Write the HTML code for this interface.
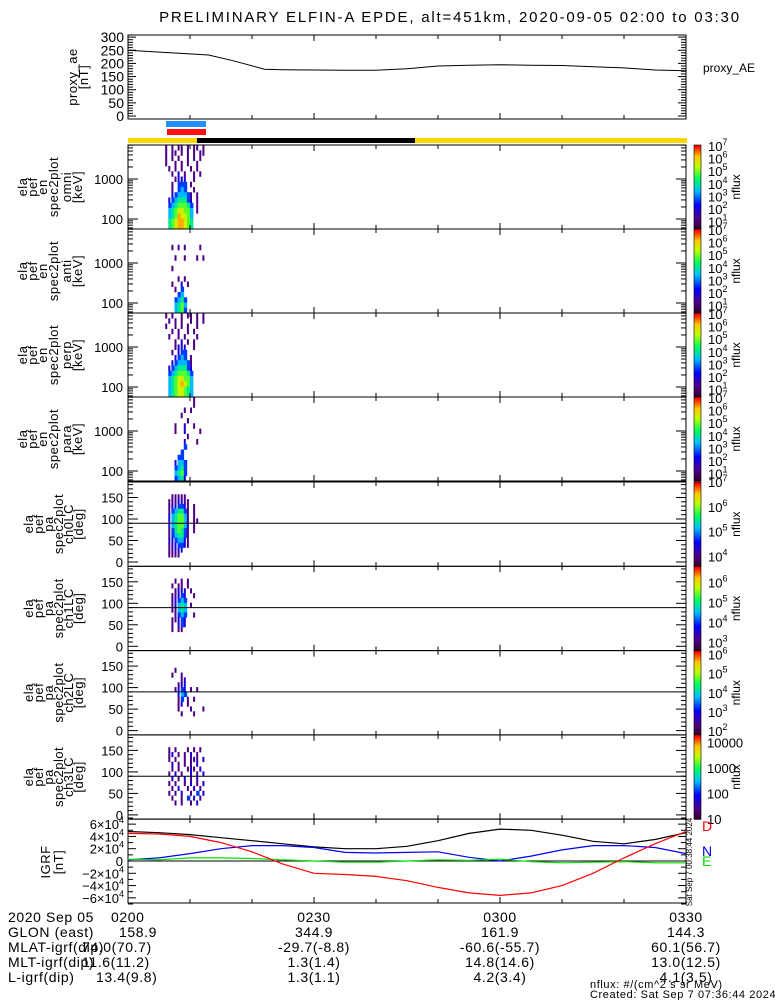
<!DOCTYPE html>
<html><head><meta charset="utf-8"><style>
html,body{margin:0;padding:0;background:#fff;}
svg{display:block;font-family:"Liberation Sans",sans-serif;}
</style></head><body>
<svg id="c" width="775" height="1000" viewBox="0 0 775 1000" xmlns="http://www.w3.org/2000/svg"></svg>
<script>
// ---------- data ----------
const aeTimes=[0,5,10,13,17,22,25,30,35,40,45,50,55,60,65,70,75,80,85,90];
const aeValues=[250,243,236,232,210,178,176,175,174,174,180,190,193,195,193,192,187,183,175,172];
const aeTicks=[0,50,100,150,200,250,300];
const igrfTimes=[0,5,10,15,20,25,30,35,40,45,50,55,60,65,70,75,80,85,90];
const igrfTotal=[4.8,4.6,4.3,3.8,3.3,2.8,2.3,2.0,2.0,2.4,3.3,4.5,5.2,5.0,4.2,3.2,2.8,3.5,4.6];
const igrfD=[4.5,4.4,4.0,3.0,1.5,-0.5,-2.0,-2.2,-2.5,-3.2,-4.3,-5.2,-5.6,-5.2,-4.0,-2.0,0.5,2.8,4.8];
const igrfN=[0.2,0.5,1.2,2.0,2.5,2.5,2.2,1.4,1.3,1.4,1.5,0.6,0.0,0.8,1.8,2.5,2.5,2.2,1.2];
const igrfE=[0.3,0.2,0.5,0.5,0.4,0.2,0.0,-0.2,-0.2,0.0,0.2,0.1,0.3,-0.1,-0.3,-0.2,-0.1,-0.3,-0.3];
const igrfTicks=[-6,-4,-2,0,2,4,6];
const specOmni=["1.1.11.1.11.1","1.11.1.1.1.11","1.1.1..1.1.1.","1..1.1.1..1..",".1.1.1..1.1..","..1.2.1..1.1.","...1222..1...","..1.333.1....","..1.343..1...","..2344431.1..",".23455532.1..",".34566653.1..",".45677664.1..",".45687764....",".56788765....",".56788765...."];
const specAnti=[".............",".............",".............","..1.1.1....1.",".............","...1..1...1.1",".............","..1..........",".............","....1.1......","..1..2.1.....","...1.3.......","....34.......","...3453......","...4564......","...4563......"];
const specPerp=["1.1..1.11.1.1",".1.1.1..1.1.1","1..1.1.1..1..","..1.1..1.1...",".1..1.1...1..","...1.2.1.1...","...1222..1...","..1.233......","...2343.1....","..2344431....",".23455532....",".34566653....",".45677664....",".45678764....",".45677654....",".45677654...."];
const specPara=[".........1...",".........1...","......1.1....",".....1.......",".......1.....","...1..2..1...","...1..2....1.",".......1.....","......2...1..","......3......",".....3.......","....33.......","...2443......","...3453......","...4563......","...3452......"];
const pa0=[".............",".............","..11111......",".1112211.....",".1223321.1...",".1345531.1...",".2456641.1...",".2456641.11..",".2456642.1...",".1356531.1...",".1345531.....",".2234421.....",".1223321.....",".11222.......",".1111........","............."];
const pa1=[".............",".............","...1.1.1.....","..1.11.1.....","...1222.1....","..11232..1...","..12343......","..12454.1....","..11454......","...1343..1...","..11232......","..1.232......","..1.11.......",".............",".............","............."];
const pa2=[".............",".............",".............","...1.........","..1..1.......",".....12......","....122......","...1232.1.1..","....243......","....13.1.1...","....12.1.....","....1...1...1",".....1...1...",".............",".............","............."];
const pa3=[".............",".............",".1.1...1.1.1.",".12.1.1.2.1..",".1.1..1.121.2","..2.1.1.1.2..","..1.1..121.2.",".1.2.1..2.1.2","..2.1.2.1.2..",".1.1..1.2.1.2","..1.2..1.2.1.",".1.1.2..1.3.2","..1..1.3.2.1.","...1.1..1.2..",".............","............."];
const energyTicks=[100,1000];
const paTicks=[0,50,100,150];
const cbExp1=[1,2,3,4,5,6,7];
const cbExp5=[4,5,6,7];
const cbExp6=[3,4,5,6];
const cbExp7=[2,3,4,5,6];
const cbLin8=["10","100","1000","10000"];
const bottomRows=[["2020 Sep 05","0200","0230","0300","0330"],["GLON (east)","158.9","344.9","161.9","144.3"],["MLAT-igrf(dip)","74.0(70.7)","-29.7(-8.8)","-60.6(-55.7)","60.1(56.7)"],["MLT-igrf(dip)","11.6(11.2)","1.3(1.4)","14.8(14.6)","13.0(12.5)"],["L-igrf(dip)","13.4(9.8)","1.3(1.1)","4.2(3.4)","4.1(3.5)"]];
const bottomTimes=[0,30,60,90];

// ---------- helpers ----------
const NS="http://www.w3.org/2000/svg";
const svg=document.getElementById('c');
function el(tag,a,p){const e=document.createElementNS(NS,tag);for(const k in a)e.setAttribute(k,a[k]);(p||svg).appendChild(e);return e;}
const X0=128,X1=686;
function xT(m){return X0+m*(X1-X0)/90;}
function rainbow(t){
  const st=[[0,[50,0,50]],[0.12,[80,0,140]],[0.28,[0,0,255]],[0.45,[0,190,255]],[0.6,[0,255,90]],[0.75,[190,255,0]],[0.87,[255,200,0]],[1,[255,0,0]]];
  t=Math.max(0,Math.min(1,t));
  for(let i=1;i<st.length;i++){if(t<=st[i][0]){const a=st[i-1],b=st[i];const f=(t-a[0])/(b[0]-a[0]);
    return 'rgb('+a[1].map((v,j)=>Math.round(v+(b[1][j]-v)*f)).join(',')+')';}}
  return 'rgb(255,0,0)';
}
function txt(x,y,s,size,anchor,parent,fill){const t=el('text',{x:x,y:y,'font-size':size,'text-anchor':anchor||'start',fill:fill||'#000'},parent);t.textContent=s;return t;}
function timeTicks(top,bot,g){for(let m=0;m<=90;m+=10){const x=xT(m);const L=(m%30===0)?6:4;
  el('line',{x1:x,y1:bot,x2:x,y2:bot-L,stroke:'#000'},g);el('line',{x1:x,y1:top,x2:x,y2:top+L,stroke:'#000'},g);}}
function frame(top,bot,g){el('rect',{x:X0,y:top,width:X1-X0,height:bot-top,fill:'none',stroke:'#000','stroke-width':1},g);}
function yTitle(lines,xs,cy,g){lines.forEach((s,i)=>{const t=el('text',{x:0,y:0,'font-size':13,'text-anchor':'middle','letter-spacing':0.5,transform:'translate('+xs[i]+','+cy+') rotate(-90)'},g);t.textContent=s;});}
function colorbar(top,bot,g){const n=40;for(let i=0;i<n;i++){el('rect',{x:694,y:top+(bot-top)*i/n,width:7,height:(bot-top)/n+0.5,fill:rainbow(1-i/(n-1))},g);}
  el('rect',{x:694,y:top,width:7,height:bot-top,fill:'none',stroke:'#000','stroke-width':0.6},g);
  const t=el('text',{x:0,y:0,'font-size':12,'text-anchor':'middle',transform:'translate(740,'+((top+bot)/2)+') rotate(-90)'},g);t.textContent='nflux';}
function expLabel(x,y,e,g){const t=el('text',{x:x,y:y,'font-size':13},g);t.textContent='10';const s=el('tspan',{dy:-6,'font-size':9},t);s.textContent=String(e);}

// title
const title=txt(450,22,'PRELIMINARY ELFIN-A EPDE, alt=451km, 2020-09-05 02:00 to 03:30',15,'middle');
title.setAttribute('letter-spacing','1.8');



// ---------- proxy AE ----------
const gAE=el('g',{});


const aeTop=35,aeBot=119;
function yAE(v){return 116-v*0.263;}
frame(aeTop,aeBot,gAE);timeTicks(aeTop,aeBot,gAE);
for(let v=0;v<=300;v+=10){const y=yAE(v);const L=(v%50===0)?8:5;el('line',{x1:X0,y1:y,x2:X0+L,y2:y,stroke:'#000'},gAE);el('line',{x1:X1,y1:y,x2:X1-L,y2:y,stroke:'#000'},gAE);}
aeTicks.forEach(v=>{const t=txt(124,yAE(v)+5,String(v),14,'end',gAE);});
const aePath=el('path',{d:aeTimes.map((m,i)=>(i?'L':'M')+xT(m).toFixed(1)+','+yAE(aeValues[i]).toFixed(1)).join(''),fill:'none',stroke:'#000','stroke-width':1},gAE);


yTitle(['proxy_ae','[nT]'],[77,88],77,gAE);
const aeLab=txt(703,72,'proxy_AE',12,'start',gAE);



// bars
const bBlue=el('rect',{x:166,y:121,width:40,height:6,fill:'#1e90ff'});


const bRed=el('rect',{x:167,y:129,width:39,height:6,fill:'#ff1010'});


const bY=el('rect',{x:X0,y:138,width:X1-X0+1,height:5,fill:'#ffd700'});


const bK=el('rect',{x:197,y:138,width:218,height:5,fill:'#000'});



// ---------- spectrogram panels ----------
const colT0=6.0,colW=0.5;
function drawCells(grid,top,bot,g){const nR=grid.length;const h=(bot-top)/nR;
  grid.forEach((row,r)=>{for(let c=0;c<row.length;c++){const ch=row[c];if(ch==='.')continue;const d=parseInt(ch,10);
    const w=d>=3?(xT(colW)-X0+0.3):2;
    const cell=el('rect',{x:xT(colT0+c*colW),y:top+r*h,width:w,height:h+0.3,fill:rainbow(d/9)},g);
    
    }});}

const enPanels=[{grid:specOmni,name:'omni'},{grid:specAnti,name:'anti'},{grid:specPerp,name:'perp'},{grid:specPara,name:'para'}];
enPanels.forEach((p,i)=>{const top=145+i*84,bot=top+84;
  const g=el('g',{});
  
  
  const yE=E=>top+34+(3-Math.log10(E))*40;
  drawCells(p.grid,top,bot,g);
  frame(top,bot,g);timeTicks(top,bot,g);
  for(let dec=10;dec<=1000;dec*=10){for(let k=1;k<10;k++){const E=dec*k;const y=yE(E);if(y<top||y>bot)continue;const L=k===1?10:5;
    el('line',{x1:X0,y1:y,x2:X0+L,y2:y,stroke:'#000'},g);el('line',{x1:X1,y1:y,x2:X1-L,y2:y,stroke:'#000'},g);}}
  energyTicks.forEach(E=>{const t=txt(123,yE(E)+5,String(E),13,'end',g);});
  yTitle(['ela','pef','en','spec2plot',p.name,'[keV]'],[27,37,47,58,71,82],top+42,g);
  colorbar(top,bot,g);
  cbExp1.forEach(e=>{expLabel(708,top+6+(7-e)*12.6,e,g);});
});

const paPanels=[{grid:pa0,name:'ch0LC',exps:cbExp5,lo:3.6,hi:7},{grid:pa1,name:'ch1LC',exps:cbExp6,lo:2.6,hi:6.8},{grid:pa2,name:'ch2LC',exps:cbExp7,lo:1.8,hi:6.2},{grid:pa3,name:'ch3LC',lin:cbLin8,lo:1,hi:4.3}];
paPanels.forEach((p,i)=>{const top=482+i*84.3,bot=top+84.3;
  const g=el('g',{});
  
  
  const yP=d=>top+80-d*0.43;
  drawCells(p.grid,yP(180),yP(0),g);
  frame(top,bot,g);timeTicks(top,bot,g);
  el('line',{x1:X0,y1:yP(90),x2:X1,y2:yP(90),stroke:'#000','stroke-width':1},g);
  for(let d=0;d<=180;d+=10){const y=yP(d);const L=(d%50===0)?10:5;el('line',{x1:X0,y1:y,x2:X0+L,y2:y,stroke:'#000'},g);el('line',{x1:X1,y1:y,x2:X1-L,y2:y,stroke:'#000'},g);}
  paTicks.forEach(d=>{const t=txt(123,yP(d)+5,String(d),13,'end',g);});
  yTitle(['ela','pef','pa','spec2plot',p.name,'[deg]'],[33,43,53,63,73,83],top+42,g);
  colorbar(top,bot,g);
  const yC=e=>bot-(e-p.lo)/(p.hi-p.lo)*(bot-top)+5;
  if(p.exps)p.exps.forEach(e=>expLabel(708,yC(e),e,g));
  else p.lin.forEach((s,k)=>{const t=txt(707,yC(k+1),s,13,'start',g);});
});

// ---------- IGRF ----------
const gI=el('g',{});


const iTop=819,iBot=903;
const yI=v=>861-v*43/7;
frame(iTop,iBot,gI);timeTicks(iTop,iBot,gI);
el('line',{x1:X0,y1:yI(0),x2:X1,y2:yI(0),stroke:'#000'},gI);
for(let v=-7;v<=7;v+=1){const y=yI(v);const L=(v%2===0)?8:5;el('line',{x1:X0,y1:y,x2:X0+L,y2:y,stroke:'#000'},gI);el('line',{x1:X1,y1:y,x2:X1-L,y2:y,stroke:'#000'},gI);}
igrfTicks.forEach(v=>{const y=yI(v)+5;
  if(v===0){txt(123,y,'0',13,'end',gI);}
  else{const t=el('text',{x:124,y:y,'font-size':13,'text-anchor':'end'},gI);t.textContent=(v<0?'\u2212':'')+Math.abs(v)+'\u00d710';const s=el('tspan',{dy:-6,'font-size':9},t);s.textContent='4';}
});
[[igrfTotal,'#000','igrf-total-line'],[igrfN,'#0000ff','igrf-n-line'],[igrfE,'#00e000','igrf-e-line'],[igrfD,'#ff0000','igrf-d-line']].forEach(s=>{
  const pth=el('path',{d:igrfTimes.map((m,i)=>(i?'L':'M')+xT(m).toFixed(1)+','+yI(s[0][i]).toFixed(1)).join(''),fill:'none',stroke:s[1],'stroke-width':1.2},gI);
  
  });
yTitle(['IGRF','[nT]'],[50,63],862,gI);
txt(702,831,'D',14,'start',gI,'#ff0000');
txt(702,856,'N',14,'start',gI,'#0000ff');
txt(702,866,'E',14,'start',gI,'#00e000');
const stamp=el('text',{x:0,y:0,'font-size':8,'text-anchor':'middle',transform:'translate(692,862) rotate(-90)'},gI);
stamp.textContent='Sat Sep  7 00:38:44 2024';

// ---------- bottom text ----------
const gB=el('g',{});


gB.setAttribute('letter-spacing','0.6');
bottomRows.forEach((row,r)=>{const y=922+r*15;
  txt(8,y,row[0],14,'start',gB);
  bottomTimes.forEach((m,k)=>{
    if(k===0){txt(r===0?111:(r===1?119:(r===4?96:82)),y,row[1],14,'start',gB);}
    else txt(xT(m),y,row[k+1],14,'middle',gB);});
});
txt(590,988,'nflux: #/(cm^2 s sr MeV)',11,'start',gB);
txt(590,998,'Created: Sat Sep 7 07:36:44 2024',11,'start',gB);
</script>
</body></html>
